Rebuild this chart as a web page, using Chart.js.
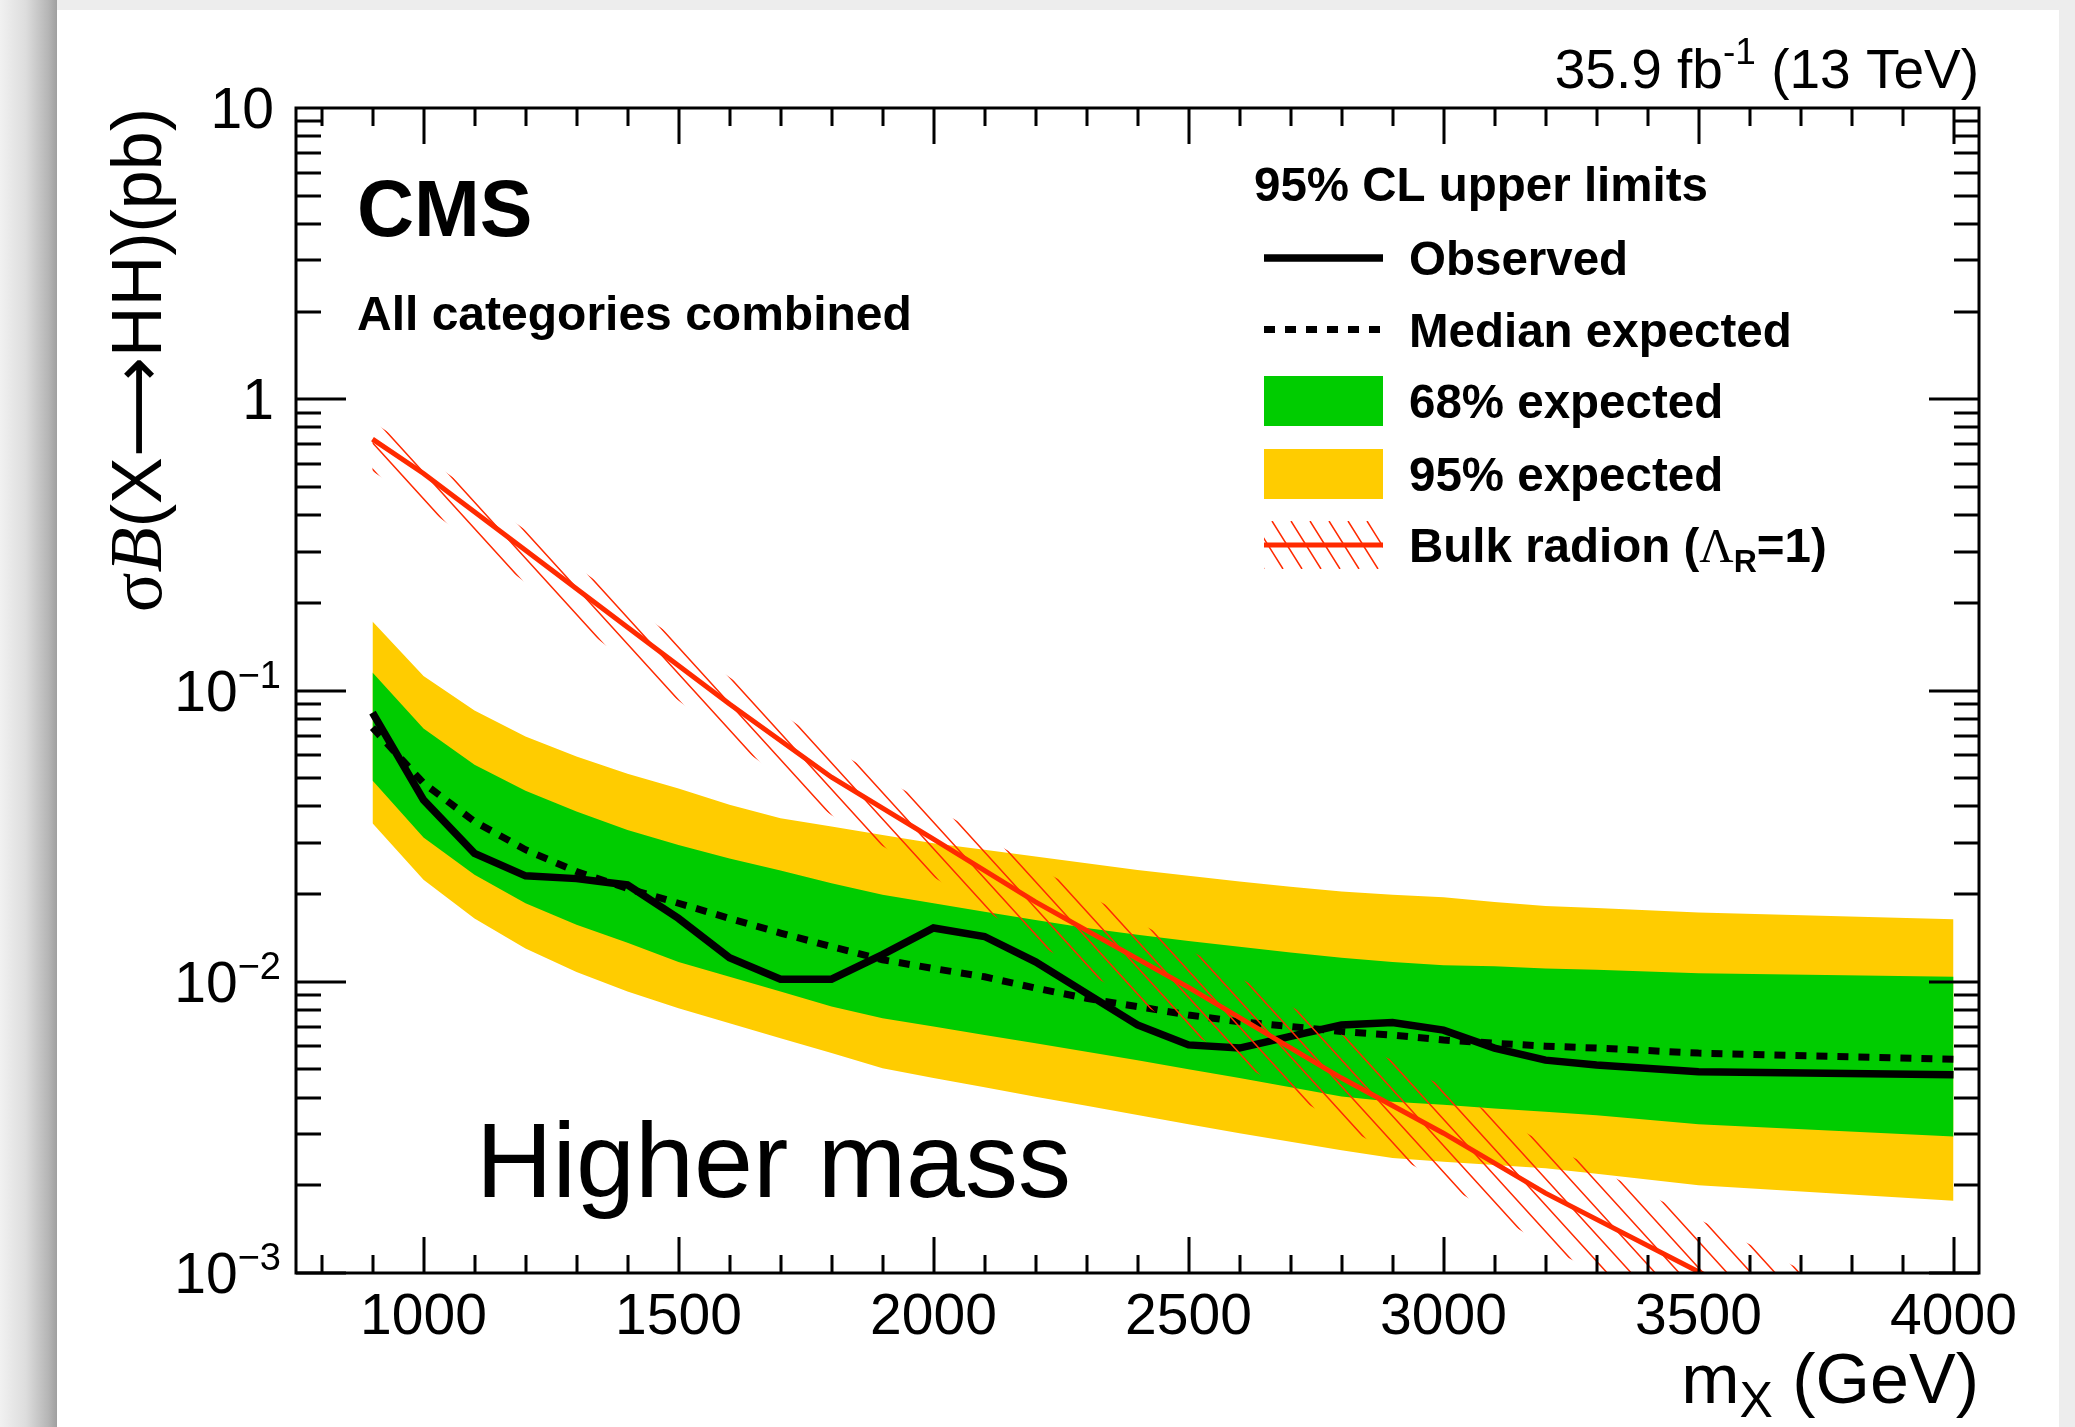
<!DOCTYPE html>
<html>
<head>
<meta charset="utf-8">
<title>X → HH upper limits, higher mass</title>
<script src="https://cdn.jsdelivr.net/npm/chart.js@4.4.1/dist/chart.umd.min.js"></script>
<style>
  html, body { margin: 0; padding: 0; }
  body { width: 2075px; height: 1427px; background: #ededed; position: relative; overflow: hidden; }
  .shade { position: absolute; left: 0; top: 0; width: 57px; height: 1427px;
           background: linear-gradient(to right, #f1f1f1 0%, #dddddd 45%, #b5b5b5 85%, #9f9f9f 100%); }
  .sheet { position: absolute; left: 57px; top: 10px; width: 2002px; height: 1417px; background: #fff; }
  #limits { position: absolute; left: 0; top: 0; }
</style>
</head>
<body>
<div class="shade"></div>
<div class="sheet"></div>
<canvas id="limits" width="2075" height="1427"></canvas>
<script>
// resonance masses (GeV) for the limit scan
const massPoints = [900, 1000, 1100, 1200, 1300, 1400, 1500, 1600, 1700, 1800, 1900, 2000, 2100, 2200,
                    2300, 2400, 2500, 2600, 2700, 2800, 2900, 3000, 3100, 3200, 3300, 3500, 4000];

// 95% CL limits on sigma x B (pb)
const observed  = [0.0839, 0.0421, 0.0276, 0.0231, 0.0226, 0.0215, 0.0165, 0.0121, 0.0102, 0.0102, 0.0124, 0.0153, 0.0143, 0.0117,
                   0.00912, 0.00711, 0.00607, 0.00592, 0.00649, 0.00711, 0.00724, 0.00682, 0.00592, 0.00538, 0.00518, 0.00491, 0.00479];
const expMedian = [0.0745, 0.0481, 0.0355, 0.0284, 0.0239, 0.0209, 0.0186, 0.0165, 0.0147, 0.0132, 0.0119, 0.0111, 0.0104, 0.00951,
                   0.00877, 0.00822, 0.00769, 0.00729, 0.00702, 0.00675, 0.00656, 0.00631, 0.00615, 0.00601, 0.00592, 0.00569, 0.00542];
const exp68Up   = [0.1152, 0.0741, 0.0556, 0.0453, 0.0384, 0.0332, 0.0295, 0.0265, 0.0241, 0.0218, 0.0199, 0.0186, 0.0174, 0.0163,
                   0.0153, 0.0145, 0.0138, 0.0132, 0.0126, 0.0121, 0.0117, 0.0114, 0.0113, 0.0111, 0.0110, 0.0107, 0.0104];
const exp68Down = [0.0491, 0.0313, 0.0233, 0.0186, 0.0157, 0.0136, 0.0117, 0.0104, 0.00925, 0.00822, 0.00750, 0.00702, 0.00656, 0.00615,
                   0.00575, 0.00538, 0.00501, 0.00467, 0.00434, 0.00404, 0.00387, 0.00378, 0.00367, 0.00358, 0.00348, 0.00324, 0.00294];
const exp95Up   = [0.1726, 0.1122, 0.0853, 0.0695, 0.0593, 0.0518, 0.0461, 0.0405, 0.0364, 0.0341, 0.0319, 0.0299, 0.0284, 0.0269,
                   0.0255, 0.0242, 0.0231, 0.0221, 0.0212, 0.0204, 0.0199, 0.0195, 0.0188, 0.0182, 0.0179, 0.0173, 0.0164];
const exp95Down = [0.0350, 0.0224, 0.0165, 0.0130, 0.0108, 0.00925, 0.00811, 0.00720, 0.00640, 0.00569, 0.00505, 0.00467, 0.00434, 0.00403,
                   0.00375, 0.00349, 0.00324, 0.00302, 0.00282, 0.00264, 0.00248, 0.00241, 0.00235, 0.00229, 0.00219, 0.00200, 0.00177];

// bulk radion prediction (Lambda_R = 1 TeV) with its hatched uncertainty band
const radionMass = [900, 1000, 1200, 1400, 1600, 1800, 2000, 2200, 2500, 2800, 3000, 3200, 3500, 4000];
const radionXsec = [0.730, 0.556, 0.303, 0.165, 0.0899, 0.0504, 0.0309, 0.0188, 0.00957, 0.00467, 0.00302, 0.00188, 0.00101, 0.00036];
const radionUp   = [0.838, 0.638, 0.356, 0.199, 0.111, 0.0634, 0.0398, 0.0248, 0.0129, 0.00659, 0.00437, 0.00278, 0.00153, 0.00057];
const radionDown = [0.566, 0.432, 0.235, 0.125, 0.0682, 0.0373, 0.0229, 0.0136, 0.00678, 0.00323, 0.00204, 0.00124, 0.000653, 0.000221];

// axis labelling
const xTickValues = [1000, 1500, 2000, 2500, 3000, 3500, 4000];
const yTickValues = [0.001, 0.01, 0.1, 1, 10];
const yTickLabels = [['10', '\u22123'], ['10', '\u22122'], ['10', '\u22121'], ['1', ''], ['10', '']];

const legendTitle = '95% CL upper limits';
const legendNames = ['Observed', 'Median expected', '68% expected', '95% expected', 'Bulk radion'];

const SANS = '"Liberation Sans", Arial, Helvetica, sans-serif';
const SERIF = '"Liberation Serif", "Times New Roman", serif';
const RED = '#ff2a00';
const GREEN = '#00cc00';
const YELLOW = '#ffcc00';
const HATCH_STEP = 24;
const HATCH_SLOPE = 1.1;

const pts = (xs, ys) => xs.map((m, i) => ({ x: m, y: ys[i] }));

// draws a row of differently styled text pieces
function drawRuns(ctx, runs, x, y, align) {
    let total = 0;
    runs.forEach(r => { ctx.font = r.font; r.w = ctx.measureText(r.text).width; total += r.w; });
    let cx = align === 'right' ? x - total : (align === 'center' ? x - total / 2 : x);
    ctx.textAlign = 'left';
    ctx.textBaseline = 'alphabetic';
    runs.forEach(r => {
        ctx.font = r.font;
        ctx.fillText(r.text, cx, y + (r.dy || 0));
        cx += r.w;
    });
    return total;
}

// parallel diagonal strokes over a box, shown through the current clip
function hatchLines(ctx, left, top, right, bottom, step, slope) {
    const h = bottom - top;
    ctx.beginPath();
    for (let x0 = left - h / slope - step; x0 < right + step; x0 += step) {
        ctx.moveTo(x0, top);
        ctx.lineTo(x0 + h / slope, bottom);
    }
    ctx.stroke();
}

// hatch between the upper and lower radion curves (datasets 1 and 2)
const radionHatch = {
    id: 'radionHatch',
    afterDatasetsDraw(chart) {
        const up = chart.getDatasetMeta(1).data;
        const down = chart.getDatasetMeta(2).data;
        const { ctx, chartArea: a } = chart;
        ctx.save();
        ctx.beginPath();
        ctx.rect(a.left, a.top, a.right - a.left, a.bottom - a.top);
        ctx.clip();
        ctx.beginPath();
        up.forEach((q, i) => i ? ctx.lineTo(q.x, q.y) : ctx.moveTo(q.x, q.y));
        for (let i = down.length - 1; i >= 0; i--) ctx.lineTo(down[i].x, down[i].y);
        ctx.closePath();
        ctx.clip();
        ctx.strokeStyle = RED;
        ctx.lineWidth = 1.5;
        hatchLines(ctx, a.left, a.top, a.right, a.bottom + 300, HATCH_STEP, HATCH_SLOPE);
        ctx.restore();
    }
};

// frame, inward ticks, labels, titles and legend
const rootFrame = {
    id: 'rootFrame',
    afterDraw(chart) {
        const { ctx, chartArea: a, scales: { x, y } } = chart;
        ctx.save();
        ctx.strokeStyle = '#000';
        ctx.fillStyle = '#000';
        ctx.lineWidth = 3;
        ctx.lineCap = 'butt';

        ctx.beginPath();
        for (let m = 800; m <= 4000; m += 100) {
            const px = Math.round(x.getPixelForValue(m));
            const len = xTickValues.includes(m) ? 36 : 18;
            ctx.moveTo(px, a.bottom); ctx.lineTo(px, a.bottom - len);
            ctx.moveTo(px, a.top); ctx.lineTo(px, a.top + len);
        }
        for (let e = -3; e <= 0; e++) {
            for (let k = 1; k <= 9; k++) {
                const py = Math.round(y.getPixelForValue(k * Math.pow(10, e)));
                const len = k === 1 ? 50 : 25;
                ctx.moveTo(a.left, py); ctx.lineTo(a.left + len, py);
                ctx.moveTo(a.right, py); ctx.lineTo(a.right - len, py);
            }
        }
        ctx.stroke();
        ctx.strokeRect(a.left, a.top, a.right - a.left, a.bottom - a.top);

        // x tick labels
        ctx.font = '57px ' + SANS;
        ctx.textAlign = 'center';
        ctx.textBaseline = 'alphabetic';
        xTickValues.forEach(v => ctx.fillText(String(v), x.getPixelForValue(v), a.bottom + 61));

        // y tick labels
        yTickValues.forEach((v, i) => {
            const py = y.getPixelForValue(v);
            const [base, exp] = yTickLabels[i];
            if (exp) {
                drawRuns(ctx, [
                    { text: base, font: '57px ' + SANS },
                    { text: exp, font: '38px ' + SANS, dy: -23 }
                ], 281, py + 20, 'right');
            } else {
                drawRuns(ctx, [{ text: base, font: '57px ' + SANS }], 274, py + 20, 'right');
            }
        });

        // axis titles
        drawRuns(ctx, [
            { text: 'm', font: '70px ' + SANS },
            { text: 'X', font: '50px ' + SANS, dy: 14 },
            { text: ' (GeV)', font: '70px ' + SANS }
        ], a.right, 1403, 'right');

        ctx.save();
        ctx.translate(161, a.top);
        ctx.rotate(-Math.PI / 2);
        drawRuns(ctx, [
            { text: '\u03c3', font: '74px ' + SERIF },
            { text: 'B', font: 'italic 74px ' + SERIF },
            { text: '(X', font: '70px ' + SANS },
            { text: '\u27f6', font: '70px "DejaVu Sans", ' + SANS },
            { text: 'HH)(pb)', font: '70px ' + SANS }
        ], 0, 0, 'right');
        ctx.restore();

        // labels on the pad
        drawRuns(ctx, [
            { text: '35.9 fb', font: '55px ' + SANS },
            { text: '-1', font: '37px ' + SANS, dy: -24 },
            { text: ' (13 TeV)', font: '55px ' + SANS }
        ], a.right, 88, 'right');
        drawRuns(ctx, [{ text: 'CMS', font: 'bold 79px ' + SANS }], 357, 236, 'left');
        drawRuns(ctx, [{ text: 'All categories combined', font: 'bold 48px ' + SANS }], 357, 330, 'left');
        drawRuns(ctx, [{ text: 'Higher mass', font: '106px ' + SANS }], 476, 1197, 'left');

        // legend
        const lx0 = 1264, lx1 = 1383, tx = 1409;
        const rows = [258, 329.5, 401, 474, 545];
        const lf = 'bold 47.5px ' + SANS;
        drawRuns(ctx, [{ text: legendTitle, font: lf }], 1254, 201, 'left');

        ctx.lineWidth = 7.5;
        ctx.beginPath();
        ctx.moveTo(lx0, rows[0]); ctx.lineTo(lx1, rows[0]);
        ctx.stroke();
        ctx.lineWidth = 7;
        ctx.setLineDash([11, 10]);
        ctx.beginPath();
        ctx.moveTo(lx0, rows[1]); ctx.lineTo(lx1, rows[1]);
        ctx.stroke();
        ctx.setLineDash([]);
        ctx.fillStyle = GREEN;
        ctx.fillRect(lx0, rows[2] - 25, lx1 - lx0, 50);
        ctx.fillStyle = YELLOW;
        ctx.fillRect(lx0, rows[3] - 25, lx1 - lx0, 50);

        ctx.save();
        ctx.beginPath();
        ctx.rect(lx0, rows[4] - 24, lx1 - lx0, 48);
        ctx.clip();
        ctx.strokeStyle = RED;
        ctx.lineWidth = 1.5;
        hatchLines(ctx, lx0, rows[4] - 24, lx1, rows[4] + 24, 19, 1.6);
        ctx.restore();
        ctx.strokeStyle = RED;
        ctx.lineWidth = 5;
        ctx.beginPath();
        ctx.moveTo(lx0, rows[4]); ctx.lineTo(lx1, rows[4]);
        ctx.stroke();

        ctx.fillStyle = '#000';
        for (let i = 0; i < 4; i++) drawRuns(ctx, [{ text: legendNames[i], font: lf }], tx, rows[i] + 17, 'left');
        drawRuns(ctx, [
            { text: legendNames[4] + ' (', font: lf },
            { text: '\u039b', font: '47.5px ' + SERIF },
            { text: 'R', font: 'bold 32px ' + SANS, dy: 10 },
            { text: '=1)', font: lf }
        ], tx, rows[4] + 17, 'left');

        ctx.restore();
    }
};

new Chart(document.getElementById('limits'), {
    type: 'line',
    data: {
        datasets: [
            { label: 'Bulk radion', data: pts(radionMass, radionXsec), borderColor: RED, borderWidth: 5, fill: false },
            { label: 'Bulk radion up', data: pts(radionMass, radionUp), borderWidth: 0, fill: false },
            { label: 'Bulk radion down', data: pts(radionMass, radionDown), borderWidth: 0, fill: false },
            { label: 'Observed', data: pts(massPoints, observed), borderColor: '#000', borderWidth: 7.5, fill: false },
            { label: 'Median expected', data: pts(massPoints, expMedian), borderColor: '#000', borderWidth: 7,
              borderDash: [11, 10], fill: false },
            { label: '68% expected', data: pts(massPoints, exp68Up), borderWidth: 0, backgroundColor: GREEN, fill: '+1' },
            { label: '68% lower', data: pts(massPoints, exp68Down), borderWidth: 0, fill: false },
            { label: '95% expected', data: pts(massPoints, exp95Up), borderWidth: 0, backgroundColor: YELLOW, fill: '+1' },
            { label: '95% lower', data: pts(massPoints, exp95Down), borderWidth: 0, fill: false }
        ]
    },
    options: {
        responsive: false,
        animation: false,
        devicePixelRatio: 1,
        layout: { padding: { left: 296, right: 96, top: 108, bottom: 154 } },
        scales: {
            x: { type: 'linear', min: 750, max: 4050, display: false },
            y: { type: 'logarithmic', min: 0.001, max: 10, display: false }
        },
        elements: {
            point: { radius: 0, hoverRadius: 0 },
            line: { tension: 0, borderCapStyle: 'butt', borderJoinStyle: 'miter' }
        },
        plugins: { legend: { display: false }, tooltip: { enabled: false } }
    },
    plugins: [radionHatch, rootFrame]
});
</script>
</body>
</html>
